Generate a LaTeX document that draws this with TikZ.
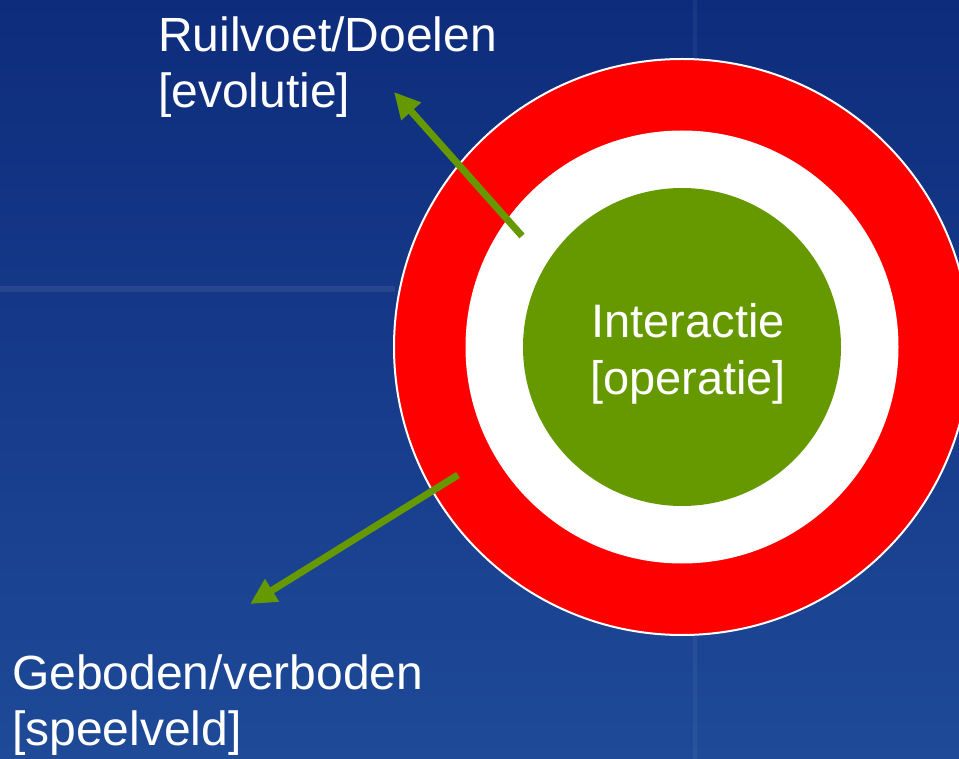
\documentclass[tikz,border=0pt]{standalone}
\usepackage{fontspec}
\setmainfont{Liberation Sans}
\usetikzlibrary{arrows.meta}
\definecolor{bgtop}{RGB}{14,44,124}
\definecolor{bgbot}{RGB}{30,74,152}
\definecolor{ringred}{RGB}{255,0,0}
\definecolor{leafgreen}{RGB}{102,153,0}
\tikzset{
  lbl/.style={text=white, font=\fontsize{48}{56}\selectfont, inner sep=0pt, align=left},
  clbl/.style={text=white, font=\fontsize{47}{57}\selectfont, inner sep=0pt, align=center},
  arr/.style={draw=leafgreen, line width=7pt, -{Triangle[length=26pt,width=25pt]}},
  disk/.style={circle, inner sep=0pt}
}
\begin{document}
\begin{tikzpicture}[x=1pt,y=-1pt]
\shade[top color=bgtop, bottom color=bgbot] (0,0) rectangle (959,759);
\useasboundingbox (0,0) rectangle (959,759);
\fill[white, opacity=0.08] (0,286) rectangle (395,292);
\fill[white, opacity=0.05] (693,0) rectangle (697,60);
\fill[white, opacity=0.05] (693,636) rectangle (697,759);
% circles
\node[disk, fill=ringred, draw=white, line width=2pt, minimum size=576pt] (outer) at (682,347) {};
\node[disk, fill=white, minimum size=433pt] (mid) at (682,347) {};
\node[disk, fill=leafgreen, minimum size=318pt] (inner) at (682,347) {};
\node[clbl, anchor=center] (core) at (688,354) {Interactie\\{}[operatie]};
% labels
\node[lbl, anchor=base west] (goal) at (158,108) {Ruilvoet/Doelen\\{}[evolutie]};
\node[lbl, anchor=base west] (field) at (12,745) {Geboden/verboden\\{}[speelveld]};
% arrows
\coordinate (s1) at (522,236);
\coordinate (t1) at (394,92);
\coordinate (s2) at (458,475);
\coordinate (t2) at (250,604);
\draw[arr] (s1) -- (t1);
\draw[arr] (s2) -- (t2);
\end{tikzpicture}
\end{document}
